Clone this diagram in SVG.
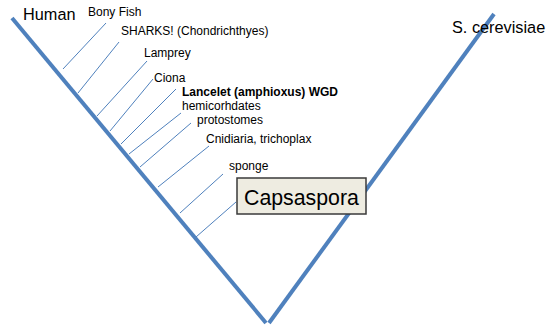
<svg xmlns="http://www.w3.org/2000/svg" width="557" height="328" viewBox="0 0 557 328">
<style>
.main{stroke:#4F81BD;stroke-width:4;fill:none;stroke-linecap:butt}
.br{stroke:#4F81BD;stroke-width:1;fill:none}
.lbl{font-family:"Liberation Sans",Arial,sans-serif;font-size:12px;fill:#000}
.big{font-family:"Liberation Sans",Arial,sans-serif;font-size:16.3px;fill:#000}
</style>
<rect width="557" height="328" fill="#fff"/>
<g id="connectors">
<line class="main" x1="12" y1="18" x2="266" y2="323"/>
<line class="main" x1="269" y1="323" x2="494" y2="14"/>
<line class="br" x1="63" y1="69" x2="106" y2="23"/>
<line class="br" x1="78" y1="93" x2="119" y2="42"/>
<line class="br" x1="97" y1="116" x2="147" y2="61"/>
<line class="br" x1="110" y1="131" x2="153" y2="79"/>
<line class="br" x1="121" y1="144" x2="176" y2="89"/>
<line class="br" x1="129" y1="154" x2="181" y2="113"/>
<line class="br" x1="140" y1="167" x2="191" y2="123"/>
<line class="br" x1="158" y1="187" x2="209" y2="146"/>
<line class="br" x1="180" y1="213" x2="223" y2="174"/>
<line class="br" x1="196" y1="237" x2="236" y2="202"/>
</g>
<g id="human"><text class="big" x="23" y="20">Human</text></g>
<g id="scerevisiae"><text class="big" x="452" y="33" font-size="16">S. cerevisiae</text></g>
<g id="bonyfish"><text class="lbl" x="88" y="16">Bony Fish</text></g>
<g id="sharks"><text class="lbl" x="121" y="35">SHARKS! (Chondrichthyes)</text></g>
<g id="lamprey"><text class="lbl" x="144" y="57">Lamprey</text></g>
<g id="ciona"><text class="lbl" x="154" y="82">Ciona</text></g>
<g id="lancelet"><text class="lbl" x="182" y="96" font-weight="bold" font-size="11.8">Lancelet (amphioxus) WGD</text></g>
<g id="hemicorhdates"><text class="lbl" x="182" y="110" font-size="11.8">hemicorhdates</text></g>
<g id="protostomes"><text class="lbl" x="197" y="124">protostomes</text></g>
<g id="cnidaria"><text class="lbl" x="206" y="143">Cnidiaria, trichoplax</text></g>
<g id="sponge"><text class="lbl" x="229" y="170">sponge</text></g>
<g id="capsaspora">
<rect x="237" y="178" width="129" height="36" fill="#EEECE1" stroke="#3a3a3a" stroke-width="1.5"/>
<text x="244" y="205" font-family="Liberation Sans, Arial, sans-serif" font-size="21.3" fill="#000">Capsaspora</text>
</g>
</svg>
